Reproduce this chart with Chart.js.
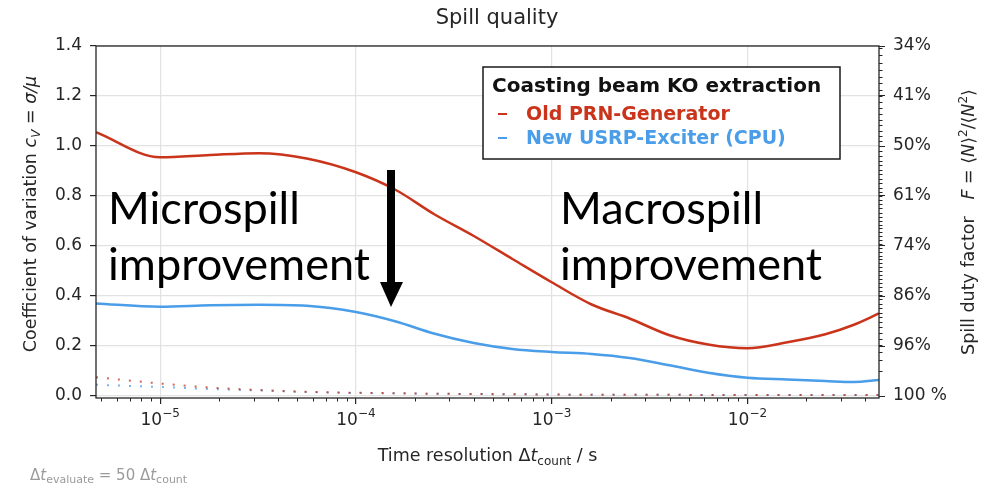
<!DOCTYPE html>
<html>
<head>
<meta charset="utf-8">
<script src="https://cdn.jsdelivr.net/npm/chart.js"></script>
<style>
  html, body { margin: 0; padding: 0; background: #ffffff; }
  canvas { display: block; }
</style>
</head>
<body>
<canvas id="spill_chart" width="994" height="485"></canvas>
<script>
// time resolution (s) and coefficient of variation
const times = [4.7e-6, 1e-5, 1.8e-5, 3.2e-5, 5.6e-5, 1e-4, 1.6e-4, 2.5e-4, 4e-4, 6.3e-4,
               1e-3, 1.6e-3, 2.5e-3, 4e-3, 6.3e-3, 1e-2, 1.6e-2, 2.5e-2, 3.5e-2, 4.7e-2];
const oldPrn = [1.055, 0.955, 0.964, 0.971, 0.95, 0.895, 0.824, 0.728, 0.64, 0.548,
                0.455, 0.366, 0.31, 0.243, 0.206, 0.191, 0.215, 0.247, 0.285, 0.33];
const newUsrp = [0.37, 0.357, 0.363, 0.365, 0.361, 0.336, 0.298, 0.25, 0.212, 0.188,
                 0.176, 0.168, 0.152, 0.123, 0.093, 0.073, 0.066, 0.06, 0.056, 0.064];
// dotted lines near zero
const oldPrnDot = [0.075, 0.05, 0.034, 0.024, 0.017, 0.013, 0.011, 0.009, 0.008, 0.007,
                   0.006, 0.005, 0.005, 0.005, 0.004, 0.004, 0.004, 0.004, 0.004, 0.004];
const newUsrpDot = [0.045, 0.036, 0.028, 0.022, 0.016, 0.012, 0.011, 0.009, 0.008, 0.007,
                    0.006, 0.005, 0.005, 0.005, 0.004, 0.004, 0.004, 0.004, 0.004, 0.004];

const seriesNames = ['Old PRN-Generator', 'New USRP-Exciter (CPU)'];
const legendTitle = 'Coasting beam KO extraction';

const xTicks = [1e-5, 1e-4, 1e-3, 1e-2];
const xTickBase = ['10', '10', '10', '10'];
const xTickExp = ['\u22125', '\u22124', '\u22123', '\u22122'];
const yTicks = [0, 0.2, 0.4, 0.6, 0.8, 1.0, 1.2, 1.4];
const yTickLabels = ['0.0', '0.2', '0.4', '0.6', '0.8', '1.0', '1.2', '1.4'];
const dutyTickLabels = ['100 %', '96%', '86%', '74%', '61%', '50%', '41%', '34%'];

const RED = '#c9341a';
const BLUE = '#4a9de8';
const INK = '#262626';
const GRID = '#e2e2e2';
const FONT = "'DejaVu Sans', sans-serif";

function pts(vals) {
    return times.map((t, i) => ({x: t, y: vals[i]}));
}

// draws a run of text pieces with mixed fonts, centred on (x, y) baseline
function richText(ctx, parts, x, y, rot, align) {
    ctx.save();
    ctx.translate(x, y);
    ctx.rotate(rot || 0);
    let total = 0;
    parts.forEach(p => { ctx.font = p.f; p.w = ctx.measureText(p.t).width; total += p.w; });
    let cx = align === 'left' ? 0 : -total / 2;
    ctx.textAlign = 'left';
    ctx.textBaseline = 'alphabetic';
    parts.forEach(p => {
        ctx.font = p.f;
        ctx.fillStyle = p.c || INK;
        ctx.fillText(p.t, cx, p.dy || 0);
        cx += p.w;
    });
    ctx.restore();
}

const decorations = {
    id: 'decorations',
    afterDraw(chart) {
        const ctx = chart.ctx;
        const a = chart.chartArea;
        const xs = chart.scales.x;
        const ys = chart.scales.y2;

        // minor ticks, bottom (log) and right (duty factor percent)
        ctx.save();
        ctx.strokeStyle = INK;
        ctx.lineWidth = 1;
        ctx.beginPath();
        for (let d = -6; d <= -2; d++) {
            for (let m = 2; m <= 9; m++) {
                const v = m * Math.pow(10, d);
                if (v < xs.min || v > xs.max) continue;
                const px = Math.round(xs.getPixelForValue(v)) + 0.5;
                ctx.moveTo(px, a.bottom);
                ctx.lineTo(px, a.bottom + 3.5);
            }
        }
        for (let p = 34; p <= 100; p++) {
            const cv = Math.sqrt(100 / p - 1);
            const py = Math.round(ys.getPixelForValue(cv)) + 0.5;
            if (py < a.top || py > a.bottom) continue;
            ctx.moveTo(a.right, py);
            ctx.lineTo(a.right + 3.5, py);
        }
        ctx.stroke();

        // frame
        ctx.lineWidth = 1.3;
        ctx.strokeStyle = INK;
        ctx.strokeRect(a.left, a.top, a.right - a.left, a.bottom - a.top);
        ctx.restore();

        // x tick labels, 10 with raised exponent
        xTicks.forEach((v, i) => {
            richText(ctx, [
                {t: xTickBase[i], f: '17px ' + FONT},
                {t: xTickExp[i], f: '12px ' + FONT, dy: -8}
            ], xs.getPixelForValue(v), 425, 0);
        });

        // axis titles
        const f17 = '17.5px ' + FONT;
        const i17 = 'italic 17.5px ' + FONT;
        const s12 = '12px ' + FONT;
        const is12 = 'italic 12px ' + FONT;
        richText(ctx, [
            {t: 'Coefficient of variation ', f: f17},
            {t: 'c', f: i17},
            {t: 'V', f: is12, dy: 4},
            {t: ' = ', f: f17},
            {t: '\u03C3/\u03BC', f: i17}
        ], 36, 214, -Math.PI / 2);

        richText(ctx, [
            {t: 'Spill duty factor   ', f: f17},
            {t: 'F', f: i17},
            {t: ' = \u27E8', f: f17},
            {t: 'N', f: i17},
            {t: '\u27E9', f: f17},
            {t: '2', f: s12, dy: -7},
            {t: '/\u27E8', f: f17},
            {t: 'N', f: i17},
            {t: '2', f: s12, dy: -7},
            {t: '\u27E9', f: f17}
        ], 974, 222, -Math.PI / 2);

        richText(ctx, [
            {t: 'Time resolution \u0394', f: f17},
            {t: 't', f: i17},
            {t: 'count', f: s12, dy: 4},
            {t: ' / s', f: f17}
        ], (a.left + a.right) / 2, 461, 0);

        richText(ctx, [
            {t: '\u0394', f: '15px ' + FONT, c: '#9a9a9a'},
            {t: 't', f: 'italic 15px ' + FONT, c: '#9a9a9a'},
            {t: 'evaluate', f: '11px ' + FONT, dy: 3, c: '#9a9a9a'},
            {t: ' = 50 \u0394', f: '15px ' + FONT, c: '#9a9a9a'},
            {t: 't', f: 'italic 15px ' + FONT, c: '#9a9a9a'},
            {t: 'count', f: '11px ' + FONT, dy: 3, c: '#9a9a9a'}
        ], 30, 480, 0, 'left');

        // legend box
        ctx.save();
        ctx.fillStyle = '#ffffff';
        ctx.fillRect(483, 67, 357, 92);
        ctx.strokeStyle = '#1a1a1a';
        ctx.lineWidth = 1.5;
        ctx.strokeRect(483, 67, 357, 92);
        ctx.textBaseline = 'alphabetic';
        ctx.textAlign = 'left';
        ctx.font = 'bold 20px ' + FONT;
        ctx.fillStyle = '#111111';
        ctx.fillText(legendTitle, 492, 92);
        const colors = [RED, BLUE];
        const base = [120, 144];
        seriesNames.forEach((name, i) => {
            ctx.fillStyle = colors[i];
            ctx.fillRect(498, base[i] - 7, 9, 2);
            ctx.font = 'bold 19px ' + FONT;
            ctx.fillText(name, 526, base[i]);
        });
        ctx.restore();

        // annotations
        ctx.save();
        ctx.fillStyle = '#000000';
        ctx.textAlign = 'left';
        ctx.textBaseline = 'alphabetic';
        ctx.font = '42px Lato, sans-serif';
        const w = ctx.measureText('improvement').width;
        const size = 42 * 262 / w;
        ctx.font = size.toFixed(1) + 'px Lato, sans-serif';
        ctx.fillText('Microspill', 108, 224);
        ctx.fillText('improvement', 108, 280);
        ctx.fillText('Macrospill', 560, 224);
        ctx.fillText('improvement', 560, 280);

        // arrow
        ctx.fillRect(387, 170, 8, 114);
        ctx.beginPath();
        ctx.moveTo(380, 282);
        ctx.lineTo(403, 282);
        ctx.lineTo(391, 307);
        ctx.closePath();
        ctx.fill();
        ctx.restore();
    }
};

const ctx = document.getElementById('spill_chart').getContext('2d');

new Chart(ctx, {
    type: 'line',
    data: {
        datasets: [
            {label: seriesNames[0], data: pts(oldPrn), borderColor: RED, borderWidth: 2.5,
             pointRadius: 0, cubicInterpolationMode: 'monotone'},
            {label: seriesNames[1], data: pts(newUsrp), borderColor: BLUE, borderWidth: 2.5,
             pointRadius: 0, cubicInterpolationMode: 'monotone'},
            {label: 'old dotted', data: pts(oldPrnDot), borderColor: 'rgba(201,52,26,0.75)', borderWidth: 2,
             borderDash: [2, 9], pointRadius: 0, cubicInterpolationMode: 'monotone'},
            {label: 'new dotted', data: pts(newUsrpDot), borderColor: 'rgba(74,157,232,0.75)', borderWidth: 2,
             borderDash: [2, 9], pointRadius: 0, cubicInterpolationMode: 'monotone'}
        ]
    },
    options: {
        responsive: false,
        animation: false,
        devicePixelRatio: 1,
        layout: {padding: 0},
        scales: {
            x: {
                type: 'logarithmic',
                min: 4.7e-6,
                max: 4.7e-2,
                afterBuildTicks: s => { s.ticks = xTicks.map(v => ({value: v})); },
                afterFit: s => { s.height = 87; },
                ticks: {
                    callback: () => '',
                    maxRotation: 0
                },
                grid: {color: GRID, tickColor: INK, tickLength: 6, lineWidth: 1.2},
                border: {display: false}
            },
            y: {
                position: 'left',
                min: -0.008,
                max: 1.4,
                afterBuildTicks: s => { s.ticks = yTicks.map(v => ({value: v})); },
                afterFit: s => { s.width = 96; },
                ticks: {
                    callback: (v, i) => yTickLabels[i],
                    color: INK,
                    font: {family: FONT, size: 17},
                    padding: 8
                },
                grid: {color: GRID, tickColor: INK, tickLength: 6, lineWidth: 1.2},
                border: {display: false}
            },
            y2: {
                position: 'right',
                min: -0.008,
                max: 1.4,
                afterBuildTicks: s => { s.ticks = yTicks.map(v => ({value: v})); },
                afterFit: s => { s.width = 115; },
                ticks: {
                    callback: (v, i) => dutyTickLabels[i],
                    color: INK,
                    font: {family: FONT, size: 17},
                    padding: 8
                },
                grid: {drawOnChartArea: false, tickColor: INK, tickLength: 6},
                border: {display: false}
            }
        },
        plugins: {
            legend: {display: false},
            tooltip: {enabled: false},
            title: {
                display: true,
                text: 'Spill quality',
                color: INK,
                font: {family: FONT, size: 21, weight: 'normal'},
                padding: {top: 6, bottom: 14.8}
            }
        }
    },
    plugins: [decorations]
});
</script>
</body>
</html>
